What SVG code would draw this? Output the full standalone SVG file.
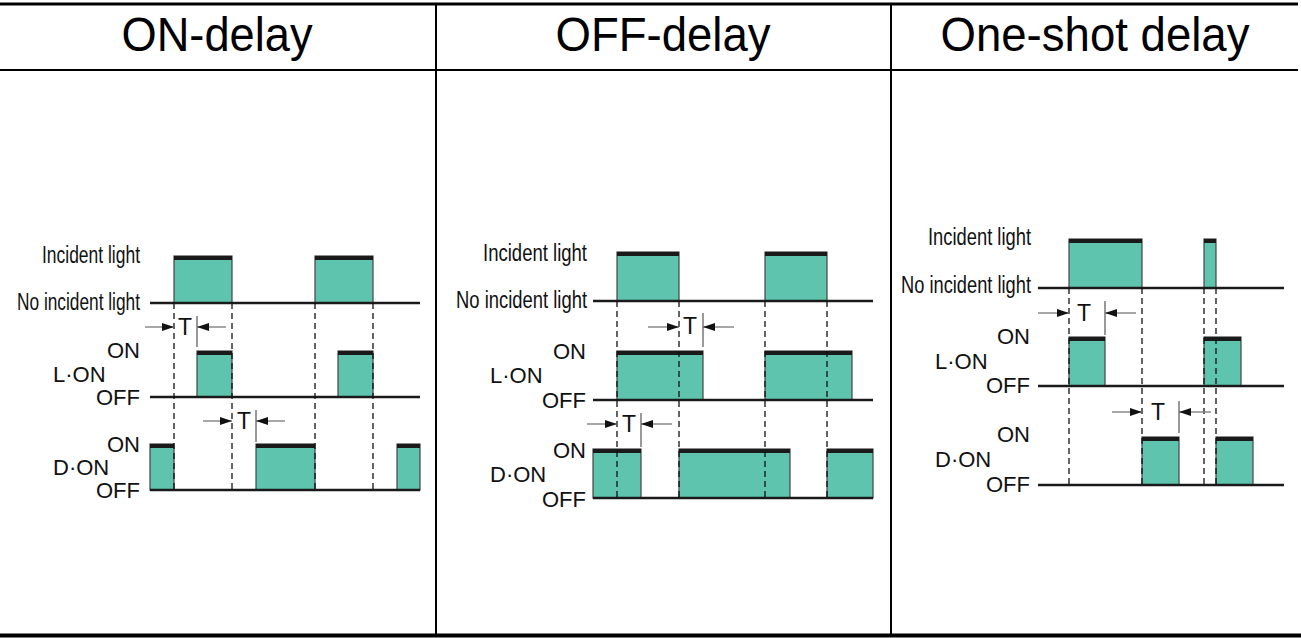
<svg xmlns="http://www.w3.org/2000/svg" width="1301" height="638" viewBox="0 0 1301 638">
<defs>
<style>
.frame{stroke:#000;fill:none}
.title{font-family:"Liberation Sans",Arial,sans-serif;font-size:49px;fill:#000;text-anchor:middle}
.lbl{font-family:"Liberation Sans",Arial,sans-serif;font-size:22px;fill:#111}
.lc{font-family:"Liberation Sans",Arial,sans-serif;font-size:22px;fill:#111;text-anchor:end}
.il{font-family:"Liberation Sans",Arial,sans-serif;font-size:23px;fill:#111;text-anchor:end}
.t{font-family:"Liberation Sans",Arial,sans-serif;font-size:23px;fill:#111}
.base{stroke:#1a1a1a;stroke-width:2.3;fill:none}
.pulse{fill:#5fc4ad;stroke:#444;stroke-width:1.2}
.bar{fill:#1a1a1a}
.dash{stroke:#111;stroke-width:1.3;stroke-dasharray:6,4;fill:none}
.arr{stroke:#777;stroke-width:1.3;fill:none}
.tick{stroke:#555;stroke-width:1.2;fill:none}
</style>
<marker id="ah" viewBox="0 0 12 8" refX="12" refY="4" markerWidth="12" markerHeight="8" markerUnits="userSpaceOnUse" orient="auto">
<path d="M0,0 L12,4 L0,8 Z" fill="#111"/>
</marker>
</defs>

<g id="frame">
<line class="frame" x1="0" y1="4" x2="1298" y2="4" stroke-width="3"/>
<line class="frame" x1="0" y1="70" x2="1298" y2="70" stroke-width="2"/>
<line class="frame" x1="436" y1="4" x2="436" y2="634" stroke-width="2"/>
<line class="frame" x1="891" y1="4" x2="891" y2="634" stroke-width="2"/>
<line class="frame" x1="0" y1="635.5" x2="1301" y2="635.5" stroke-width="4"/>
</g>

<g id="titles">
<text class="title" x="217" y="51" textLength="191" lengthAdjust="spacingAndGlyphs">ON-delay</text>
<text class="title" x="663" y="51" textLength="215" lengthAdjust="spacingAndGlyphs">OFF-delay</text>
<text class="title" x="1095" y="51" textLength="309" lengthAdjust="spacingAndGlyphs">One-shot delay</text>
</g>

<!-- ON-delay panel -->
<g id="on-delay">
<g id="on-labels">
<text class="il" x="140" y="263" textLength="98" lengthAdjust="spacingAndGlyphs">Incident light</text>
<text class="il" x="140" y="310" textLength="123" lengthAdjust="spacingAndGlyphs">No incident light</text>
<text class="lc" x="140" y="358">ON</text>
<text class="lbl" x="53" y="382">L·ON</text>
<text class="lc" x="140" y="405">OFF</text>
<text class="lc" x="140" y="452">ON</text>
<text class="lbl" x="53" y="475">D·ON</text>
<text class="lc" x="140" y="498">OFF</text>
</g>
<g id="on-pulses">
<rect class="pulse" x="174" y="256" width="58" height="47"/><rect class="bar" x="174" y="256" width="58" height="4"/>
<rect class="pulse" x="315" y="256" width="58" height="47"/><rect class="bar" x="315" y="256" width="58" height="4"/>
<rect class="pulse" x="197" y="351" width="35" height="46"/><rect class="bar" x="197" y="351" width="35" height="4"/>
<rect class="pulse" x="338" y="351" width="35" height="46"/><rect class="bar" x="338" y="351" width="35" height="4"/>
<rect class="pulse" x="150" y="444" width="24" height="46"/><rect class="bar" x="150" y="444" width="24" height="4"/>
<rect class="pulse" x="256" y="444" width="59" height="46"/><rect class="bar" x="256" y="444" width="59" height="4"/>
<rect class="pulse" x="397" y="444" width="23" height="46"/><rect class="bar" x="397" y="444" width="23" height="4"/>
</g>
<g id="on-connectors">
<line class="base" x1="150" y1="303" x2="420" y2="303"/>
<line class="base" x1="150" y1="397" x2="420" y2="397"/>
<line class="base" x1="150" y1="490" x2="420" y2="490"/>
<line class="dash" x1="174" y1="303" x2="174" y2="490"/>
<line class="dash" x1="232" y1="303" x2="232" y2="490"/>
<line class="dash" x1="315" y1="303" x2="315" y2="490"/>
<line class="dash" x1="373" y1="303" x2="373" y2="490"/>
<line class="arr" x1="145" y1="327" x2="174" y2="327" marker-end="url(#ah)"/>
<line class="tick" x1="197" y1="316" x2="197" y2="347"/>
<line class="arr" x1="226" y1="327" x2="197" y2="327" marker-end="url(#ah)"/>
<line class="arr" x1="203" y1="421" x2="232" y2="421" marker-end="url(#ah)"/>
<line class="tick" x1="256" y1="410" x2="256" y2="442"/>
<line class="arr" x1="285" y1="421" x2="256" y2="421" marker-end="url(#ah)"/>
</g>
<text class="t" x="178" y="335">T</text>
<text class="t" x="237" y="429">T</text>
</g>

<!-- OFF-delay panel -->
<g id="off-delay">
<g id="off-labels">
<text class="il" x="587" y="261" textLength="104" lengthAdjust="spacingAndGlyphs">Incident light</text>
<text class="il" x="587" y="308" textLength="131" lengthAdjust="spacingAndGlyphs">No incident light</text>
<text class="lc" x="586" y="359">ON</text>
<text class="lbl" x="490" y="383">L·ON</text>
<text class="lc" x="586" y="408">OFF</text>
<text class="lc" x="586" y="458">ON</text>
<text class="lbl" x="490" y="482">D·ON</text>
<text class="lc" x="586" y="507">OFF</text>
</g>
<g id="off-pulses">
<rect class="pulse" x="617" y="252" width="62" height="49"/><rect class="bar" x="617" y="252" width="62" height="4"/>
<rect class="pulse" x="765" y="252" width="62" height="49"/><rect class="bar" x="765" y="252" width="62" height="4"/>
<rect class="pulse" x="617" y="351" width="86" height="49"/><rect class="bar" x="617" y="351" width="86" height="4"/>
<rect class="pulse" x="765" y="351" width="87" height="49"/><rect class="bar" x="765" y="351" width="87" height="4"/>
<rect class="pulse" x="593" y="449" width="48" height="49"/><rect class="bar" x="593" y="449" width="48" height="4"/>
<rect class="pulse" x="679" y="449" width="111" height="49"/><rect class="bar" x="679" y="449" width="111" height="4"/>
<rect class="pulse" x="827" y="449" width="46" height="49"/><rect class="bar" x="827" y="449" width="46" height="4"/>
</g>
<g id="off-connectors">
<line class="base" x1="593" y1="301" x2="873" y2="301"/>
<line class="base" x1="593" y1="400" x2="873" y2="400"/>
<line class="base" x1="593" y1="498" x2="873" y2="498"/>
<line class="dash" x1="617" y1="301" x2="617" y2="498"/>
<line class="dash" x1="679" y1="301" x2="679" y2="498"/>
<line class="dash" x1="765" y1="301" x2="765" y2="498"/>
<line class="dash" x1="827" y1="301" x2="827" y2="498"/>
<line class="arr" x1="648" y1="327" x2="679" y2="327" marker-end="url(#ah)"/>
<line class="tick" x1="703" y1="313" x2="703" y2="347"/>
<line class="arr" x1="734" y1="327" x2="703" y2="327" marker-end="url(#ah)"/>
<line class="arr" x1="587" y1="424" x2="617" y2="424" marker-end="url(#ah)"/>
<line class="tick" x1="641" y1="413" x2="641" y2="447"/>
<line class="arr" x1="672" y1="424" x2="641" y2="424" marker-end="url(#ah)"/>
</g>
<text class="t" x="683" y="334">T</text>
<text class="t" x="622" y="432">T</text>
</g>

<!-- One-shot delay panel -->
<g id="one-shot">
<g id="one-labels">
<text class="il" x="1031" y="245" textLength="103" lengthAdjust="spacingAndGlyphs">Incident light</text>
<text class="il" x="1031" y="293" textLength="130" lengthAdjust="spacingAndGlyphs">No incident light</text>
<text class="lc" x="1030" y="344">ON</text>
<text class="lbl" x="935" y="369">L·ON</text>
<text class="lc" x="1030" y="393">OFF</text>
<text class="lc" x="1030" y="442">ON</text>
<text class="lbl" x="935" y="467">D·ON</text>
<text class="lc" x="1030" y="492">OFF</text>
</g>
<g id="one-pulses">
<rect class="pulse" x="1069" y="239" width="73" height="49"/><rect class="bar" x="1069" y="239" width="73" height="4"/>
<rect class="pulse" x="1204" y="239" width="12" height="49"/><rect class="bar" x="1204" y="239" width="12" height="4"/>
<rect class="pulse" x="1069" y="337" width="36" height="49"/><rect class="bar" x="1069" y="337" width="36" height="4"/>
<rect class="pulse" x="1204" y="337" width="37" height="49"/><rect class="bar" x="1204" y="337" width="37" height="4"/>
<rect class="pulse" x="1142" y="437" width="37" height="48"/><rect class="bar" x="1142" y="437" width="37" height="4"/>
<rect class="pulse" x="1216" y="437" width="37" height="48"/><rect class="bar" x="1216" y="437" width="37" height="4"/>
</g>
<g id="one-connectors">
<line class="base" x1="1038" y1="288" x2="1284" y2="288"/>
<line class="base" x1="1038" y1="386" x2="1284" y2="386"/>
<line class="base" x1="1038" y1="485" x2="1284" y2="485"/>
<line class="dash" x1="1069" y1="288" x2="1069" y2="485"/>
<line class="dash" x1="1142" y1="288" x2="1142" y2="485"/>
<line class="dash" x1="1204" y1="288" x2="1204" y2="485"/>
<line class="dash" x1="1216" y1="288" x2="1216" y2="485"/>
<line class="arr" x1="1038" y1="313" x2="1069" y2="313" marker-end="url(#ah)"/>
<line class="tick" x1="1105" y1="301" x2="1105" y2="335"/>
<line class="arr" x1="1136" y1="313" x2="1105" y2="313" marker-end="url(#ah)"/>
<line class="arr" x1="1112" y1="412" x2="1142" y2="412" marker-end="url(#ah)"/>
<line class="tick" x1="1179" y1="401" x2="1179" y2="433"/>
<line class="arr" x1="1211" y1="412" x2="1179" y2="412" marker-end="url(#ah)"/>
</g>
<text class="t" x="1077" y="321">T</text>
<text class="t" x="1151" y="420">T</text>
</g>
</svg>
